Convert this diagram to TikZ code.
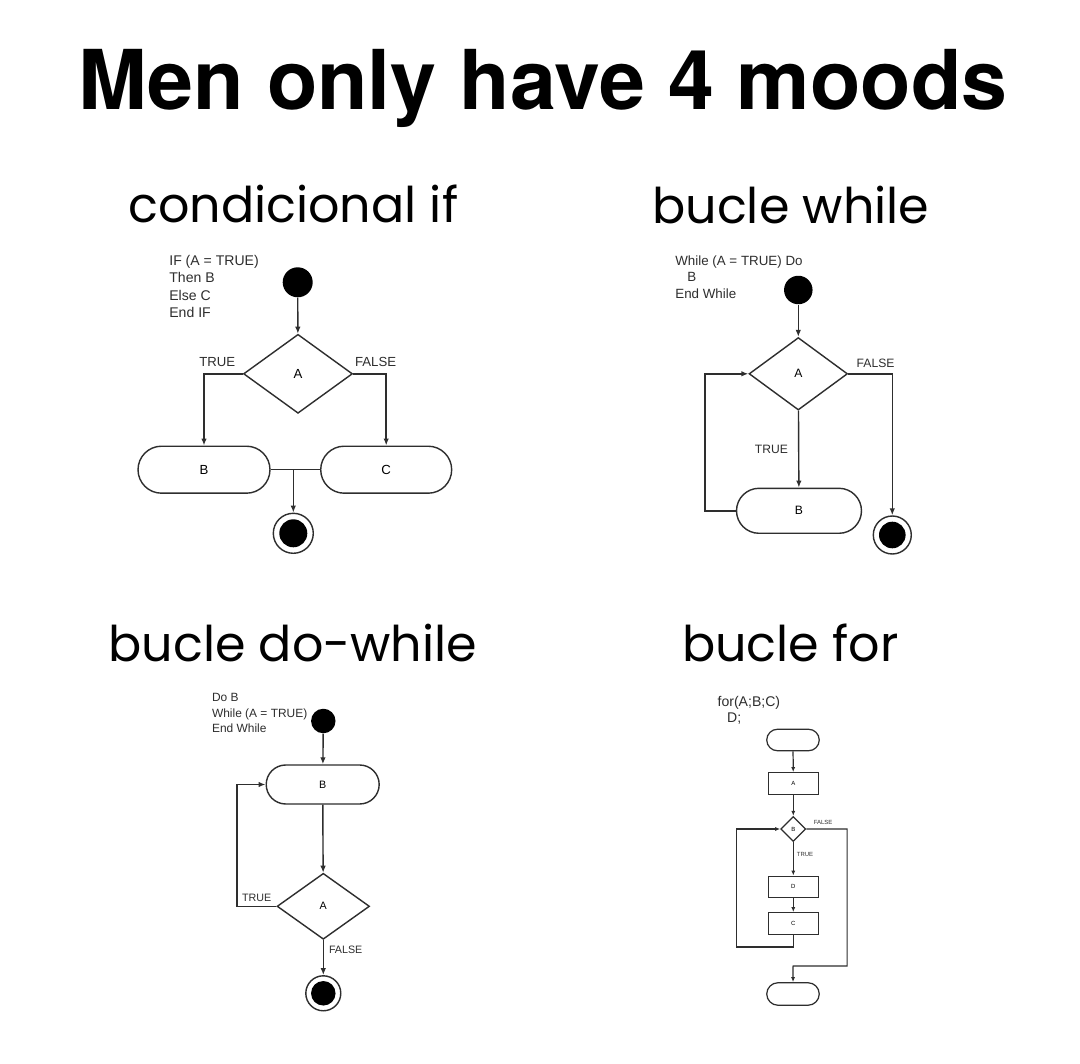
\documentclass[tikz,border=0pt]{standalone}
\usepackage{fontspec}
\setmainfont{Liberation Sans}
\newfontfamily\headfont{TeX Gyre Heros}
\newfontfamily\subfont{Poppins}
\usepackage{xcolor}
\usetikzlibrary{arrows.meta,positioning,calc,shapes.geometric,shapes.misc}
\definecolor{ink}{HTML}{2E2E2E}

\begin{document}
\begin{tikzpicture}[x=0.02cm, y=-0.02cm, >={Latex[length=1.4mm,width=1.1mm]},
  line/.style={draw=ink, line width=0.8pt},
  flow/.style={line, ->},
  tinyflow/.style={line, line width=0.7pt, -{Latex[length=1mm,width=0.8mm]}},
  pill/.style={rounded rectangle, draw=ink, line width=0.8pt, inner sep=0pt},
  box/.style={rectangle, draw=ink, line width=0.7pt, inner sep=0pt},
  cond/.style={diamond, draw=ink, line width=0.8pt, inner sep=0pt},
  startdot/.style={circle, fill=black, inner sep=0pt, minimum size=#1},
  enddot/.style={circle, draw=ink, line width=0.8pt, inner sep=0pt, minimum size=#1,
    path picture={\fill[black] (path picture bounding box.center) circle ({0.35*#1});}},
  lbl/.style={text=ink, inner sep=0pt},
  code/.style={text=ink, inner sep=0pt, align=left, anchor=north west},
  heading/.style={font=\subfont\fontsize{28}{34}\selectfont, anchor=base, inner sep=0pt}]
  \fill[white] (0,0) rectangle (1080,1064);
  \useasboundingbox (0,0) rectangle (1080,1064);

  \node[font=\headfont\bfseries\fontsize{47}{56}\selectfont, anchor=base, inner sep=0pt] (title) at (543.3,110) {Men only have 4 moods};
  \node[heading] (headif) at (293.3,222.7) {condicional if};
  \node[heading] (headwhile) at (790.8,223.3) {bucle while};
  \node[heading] (headdo) at (292.8,661.7) {bucle do-while};
  \node[heading] (headfor) at (790.3,661.7) {bucle for};

  \begin{scope}[font=\fontsize{7.5}{9}\selectfont]
    \node[code, font=\fontsize{8}{9.9}\selectfont] (ifcode) at (169,255) {IF (A = TRUE)\\Then B\\Else C\\End IF};
    \node[startdot=0.6cm] (ifstart) at (297.7,282.3) {};
    \node[cond, minimum width=2.18cm, minimum height=1.58cm] (ifcond) at (298,373.8) {A};
    \node[pill, minimum width=2.64cm, minimum height=0.94cm] (ifb) at (204,469.7) {B};
    \node[pill, minimum width=2.62cm, minimum height=0.94cm] (ifc) at (386.2,469.7) {C};
    \node[enddot=0.8cm] (ifend) at (293.3,533.3) {};
    \draw[flow] (ifstart) -- (ifcond);
    \draw[flow] (ifcond.west) -| node[lbl, above=0.12cm, pos=0.33]{TRUE} (ifb.north);
    \draw[flow] (ifcond.east) -| node[lbl, above=0.12cm, pos=0.34]{FALSE} (ifc.north);
    \draw[line] (ifb.east) -- (ifc.west);
    \draw[flow] (ifb.east -| ifend) -- (ifend);
  \end{scope}

  \begin{scope}[font=\fontsize{6.9}{8}\selectfont]
    \node[code, font=\fontsize{7.6}{9.5}\selectfont] (whcode) at (675,255) {While (A = TRUE) Do\\\hspace*{0.24cm}B\\End While};
    \node[startdot=0.57cm] (whstart) at (798.3,290) {};
    \node[cond, minimum width=1.97cm, minimum height=1.45cm] (whcond) at (798.3,373.8) {A};
    \node[pill, minimum width=2.5cm, minimum height=0.9cm] (whb) at (799,510.8) {B};
    \node[enddot=0.76cm] (whend) at (892.3,535) {};
    \draw[flow] (whstart) -- (whcond);
    \draw[flow] (whcond) -- node[lbl, left=0.2cm]{TRUE} (whb);
    \draw[flow] (whcond.east) -| node[lbl, above=0.1cm, pos=0.31]{FALSE} (whend);
    \draw[flow] (whb.west) -- ++(-31,0) |- (whcond.west);
  \end{scope}

  \begin{scope}[font=\fontsize{6.1}{7}\selectfont]
    \node[code, font=\fontsize{6.8}{8.8}\selectfont] (dwcode) at (211.7,693) {Do B\\While (A = TRUE)\\End While};
    \node[startdot=0.49cm] (dwstart) at (323.3,721) {};
    \node[pill, minimum width=2.26cm, minimum height=0.78cm] (dwb) at (322.7,784.5) {B};
    \node[cond, minimum width=1.85cm, minimum height=1.32cm] (dwcond) at (323.3,906.3) {A};
    \node[enddot=0.7cm] (dwend) at (323.3,993.3) {};
    \draw[flow] (dwstart) -- (dwb);
    \draw[flow] (dwb) -- (dwcond);
    \draw[flow] (dwcond.west) -- node[lbl, above=0.08cm]{TRUE} ++(-39.4,0) |- (dwb.west);
    \draw[flow] (dwcond) -- node[lbl, right=0.1cm, pos=0.28]{FALSE} (dwend);
  \end{scope}

  \begin{scope}[font=\fontsize{3.4}{4}\selectfont]
    \node[code, font=\fontsize{8}{9.1}\selectfont] (forcode) at (717.3,696) {for(A;B;C)\\\hspace*{0.19cm}D;};
    \node[pill, line width=0.7pt, minimum width=1.05cm, minimum height=0.43cm] (forbegin) at (793,740) {};
    \node[box, minimum width=1cm, minimum height=0.43cm] (fora) at (793.3,783.5) {A};
    \node[cond, line width=0.7pt, minimum size=0.5cm] (forcond) at (793.3,829) {B};
    \node[box, minimum width=1cm, minimum height=0.42cm] (ford) at (793.3,886.7) {D};
    \node[box, minimum width=1cm, minimum height=0.44cm] (forc) at (793.3,923.7) {C};
    \node[pill, line width=0.7pt, minimum width=1.05cm, minimum height=0.45cm] (forend) at (793,994) {};
    \draw[tinyflow] (forbegin) -- (fora);
    \draw[tinyflow] (fora) -- (forcond);
    \draw[tinyflow] (forcond) -- node[lbl, right=0.06cm, pos=0.36]{TRUE} (ford);
    \draw[tinyflow] (ford) -- (forc);
    \draw[tinyflow] (forc.south) |- ++(-56.6,11.7) |- (forcond.west);
    \draw[tinyflow] (forcond.east) -- node[lbl, above=0.08cm, pos=0.41]{FALSE} ++(40.7,0) |- ++(-54,137) -- (forend);
  \end{scope}
\end{tikzpicture}
\end{document}
